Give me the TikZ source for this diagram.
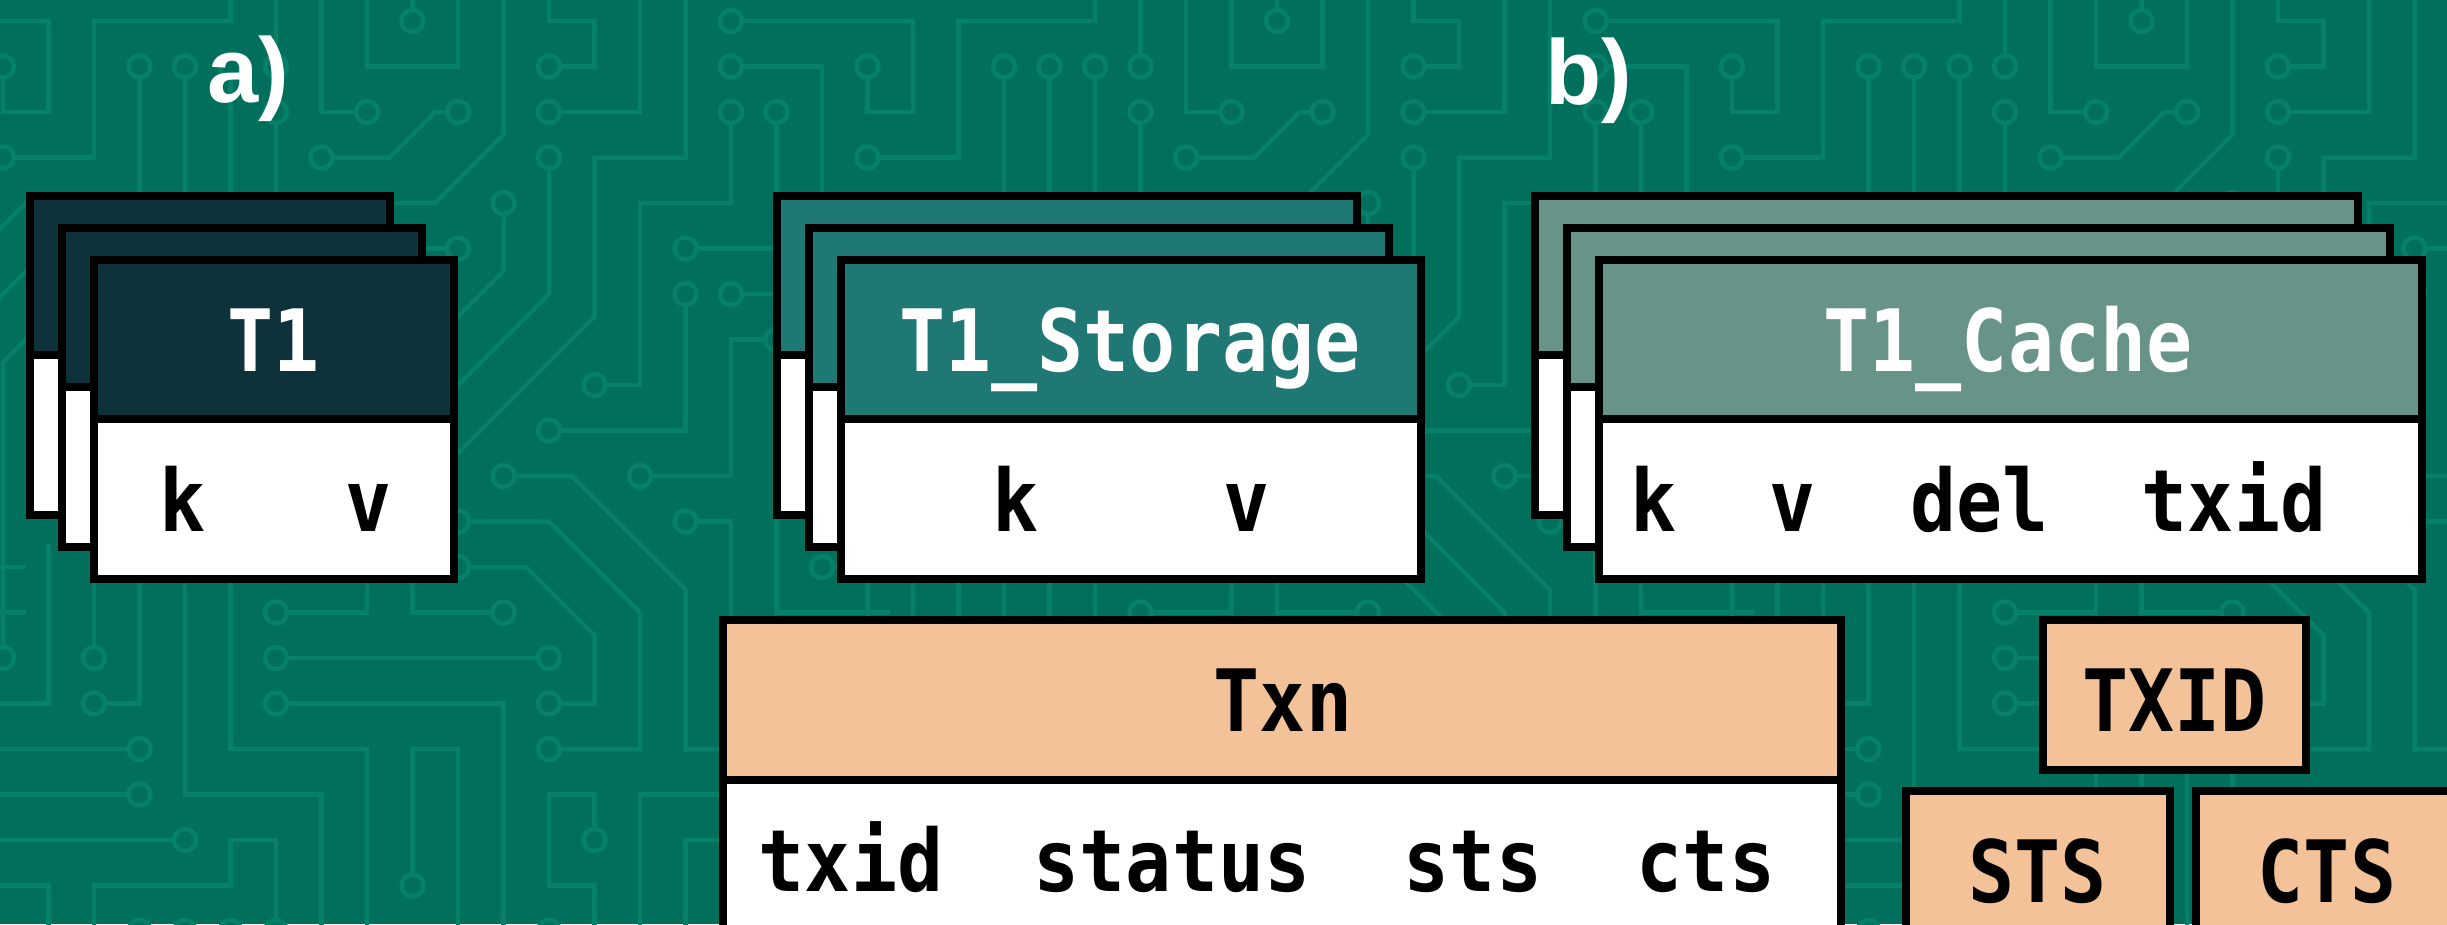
\documentclass[tikz,border=0pt]{standalone}
\usepackage{fontspec}
\newfontfamily\monof{DejaVu Sans Mono}[FakeStretch=0.89]
\newfontfamily\labf{Liberation Sans}
\definecolor{bg}{RGB}{0,111,91}
\definecolor{trace}{RGB}{6,128,105}
\definecolor{hdrA}{RGB}{14,50,58}
\definecolor{hdrB}{RGB}{31,120,115}
\definecolor{hdrC}{RGB}{104,147,137}
\definecolor{peach}{RGB}{243,194,152}
\tikzset{
  cardline/.style={draw=black, line width=8pt},
  trc/.style={draw=trace, line width=4.5pt},
  hdrtxt/.style={font=\monof\bfseries\fontsize{86}{100}\selectfont, text=white, inner sep=0pt, anchor=base},
  bodytxt/.style={font=\monof\bfseries\fontsize{86}{100}\selectfont, text=black, inner sep=0pt, anchor=base},
  labtxt/.style={font=\labf\bfseries\fontsize{92}{100}\selectfont, text=white, inner sep=0pt, anchor=base},
}
% #1 left, #2 top, #3 right, #4 bottom (outer edges), #5 header colour, #6 header height
\newcommand\dbcard[6]{%
  \fill[#5] (#1+4,#2+4) rectangle (#3-4,#2+#6);
  \fill[white] (#1+4,#2+#6) rectangle (#3-4,#4-4);
  \draw[cardline] (#1+4,#2+4) rectangle (#3-4,#4-4);
  \draw[cardline] (#1+4,#2+#6) -- (#3-4,#2+#6);
}
\newcommand\plainbox[5]{%
  \fill[#5] (#1+4,#2+4) rectangle (#3-4,#4-4);
  \draw[cardline] (#1+4,#2+4) rectangle (#3-4,#4-4);
}
\begin{document}
\begin{tikzpicture}[x=1pt, y=-1pt]
\useasboundingbox (0,0) rectangle (2447,924);
\clip (0,0) rectangle (2447,924);
\fill[bg] (0,0) rectangle (2447,924);

% circuit background pattern (tile of 19 x 45.5)
\foreach \k in {-1,0,1,2}{
\begin{scope}[xshift={\k*864.5pt+3pt}, yshift=-21pt, x=45.5pt, y=-45.5pt]
\draw[trc] (-0.5,0) -- (1,0) -- (1,2) -- (0,2) -- (0,1);
\draw[trc] (0,3) -- (2,3) -- (2,0) -- (5,0) -- (5,-1);
\draw[trc] (3,1) -- (3,5) (4,1) -- (4,5) (5,1) -- (5,5);
\draw[trc] (6,-1) -- (6,1) (6,2) -- (6,5);
\draw[trc] (7,3) -- (8.5,3) -- (9.5,2) -- (10,2);
\draw[trc] (8,2) -- (7,2) -- (7,-1);
\draw[trc] (8,-1) -- (8,1) -- (10,1) -- (10,-1) (9,0) -- (9,-1);
\draw[trc] (11,-1) -- (11,2.5) -- (9.5,4) -- (8,4);
\draw[trc] (12,-1) -- (12,0) -- (13,0) -- (13,1) -- (12,1);
\draw[trc] (12,2) -- (14,2) -- (14,-1);
\draw[trc] (12,3) -- (12,6) -- (9,9);
\draw[trc] (15,-1) -- (15,3) -- (13,3) -- (13,6.5) -- (9,10.5);
\draw[trc] (16,0) -- (19.5,0);
\draw[trc] (16,1) -- (18,1) -- (18,5);
\draw[trc] (16,2) -- (16,4) -- (14,4) -- (14,8) -- (13,8);
\draw[trc] (17,2) -- (17,5);
\draw[trc] (11,4) -- (11,5.5) -- (9,7.5);
\draw[trc] (10,5) -- (9,5);
\draw[trc] (15,5) -- (17.5,5);
\draw[trc] (15,6) -- (15,9) -- (12,9);
\draw[trc] (16,6) -- (17.5,6);
\draw[trc] (14,10) -- (16,10) -- (16,7) -- (17,7);
\draw[trc] (11,10) -- (12.5,10) -- (15,12.5) -- (15,16) -- (16.5,16);
\draw[trc] (15,11) -- (16,11) -- (16,14);
\draw[trc] (10,11) -- (12,11) -- (14,13) -- (14,16) -- (12,16);
\draw[trc] (10,12) -- (11.5,12) -- (13,13.5) -- (13,15) -- (12,15);
\draw[trc] (9,12) -- (9,13) -- (11,13);
\draw[trc] (6,14) -- (12,14);
\draw[trc] (6,15) -- (11,15) -- (11,21);
\draw[trc] (6,13) -- (8,13) -- (8,12);
\draw[trc] (17,10.5) -- (17,13) -- (19.5,13) (18,12) -- (19.5,12);
\draw[trc] (14,21) -- (14,17) -- (16.5,17) (15,21) -- (15,18) -- (16.5,18);
\draw[trc] (13,18) -- (13,17) -- (12,17) -- (12,19) -- (13,19) -- (13,21);
\draw[trc] (9,19) -- (9,16) -- (10,16) -- (10,21);
\draw[trc] (4,12) -- (4,17) -- (7,17) -- (7,21);
\draw[trc] (5,12) -- (5,16) -- (8,16) -- (8,21);
\draw[trc] (0.6,6.9) -- (0,7.5) -- (0,14);
\draw[trc] (-1,5.5) -- (0.6,3.9) (-1,7) -- (0.6,5.4);
\draw[trc] (1,11.5) -- (1,15) -- (-1,15);
\draw[trc] (2,12) -- (2,14);
\draw[trc] (2,15) -- (3,15) -- (3,12);
\draw[trc] (3,16) -- (-1,16) (3,17) -- (-1,17) (4,18) -- (-1,18);
\draw[trc] (-1,19) -- (1,19) -- (1,21);
\draw[trc] (2,21) -- (2,19) -- (5,19) -- (5,18) -- (6,18) -- (6,20);
\foreach \p in {(0,1),(0,3),(3,1),(4,1),(5,1),(6,1),(6,2),(7,3),(10,2),(8,2),(9,0),
  (12,1),(12,2),(12,3),(16,0),(16,1),(16,2),(13,8),(17,2),(11,4),(10,5),(15,5),(15,6),
  (12,9),(16,6),(14,10),(17,7),(11,10),(15,11),(10,11),(12,16),(10,12),(12,15),(11,13),
  (6,14),(12,14),(6,15),(6,13),(18,12),(13,18),(9,19),(0,14),(2,14),(2,15),(3,16),
  (3,17),(4,18),(3,20),(4,20),(5,20),(6,20),(12,20)}
  \draw[trc, fill=bg] \p circle[radius=11pt];
\end{scope}
}

% labels
\node[labtxt] (la) at (248,102) {a)};
\node[labtxt] (lb) at (1589,104) {b)};

% a) T1 stack
\dbcard{26}{192}{394}{519}{hdrA}{163}
\dbcard{58}{224}{426}{551}{hdrA}{163}
\dbcard{90}{256}{458}{583}{hdrA}{163}
\node[hdrtxt] (t1h) at (274,371) {T1};
\node[bodytxt] (t1k) at (183,531) {k};
\node[bodytxt] (t1v) at (369,531) {v};

% b) T1_Storage stack
\dbcard{773}{192}{1361}{519}{hdrB}{163}
\dbcard{805}{224}{1393}{551}{hdrB}{163}
\dbcard{837}{256}{1425}{583}{hdrB}{163}
\node[hdrtxt] (sth) at (1130,371) {T1\_Storage};
\node[bodytxt] (stk) at (1016,531) {k};
\node[bodytxt] (stv) at (1247,531) {v};

% T1_Cache stack
\dbcard{1531}{192}{2362}{519}{hdrC}{163}
\dbcard{1563}{224}{2394}{551}{hdrC}{163}
\dbcard{1595}{256}{2426}{583}{hdrC}{163}
\node[hdrtxt] (cah) at (2008,371) {T1\_Cache};
\node[bodytxt] (cak) at (1654,531) {k};
\node[bodytxt] (cav) at (1793,531) {v};
\node[bodytxt] (cad) at (1979.5,531) {del};
\node[bodytxt] (cat) at (2234,531) {txid};

% Txn
\dbcard{719}{616}{1845}{1000}{peach}{164}
\node[bodytxt] (txh) at (1283,731) {Txn};
\node[bodytxt] (txa) at (851,891) {txid};
\node[bodytxt] (txb) at (1172,891) {status};
\node[bodytxt] (txc) at (1473,891) {sts};
\node[bodytxt] (txd) at (1706,891) {cts};

% TXID, STS, CTS
\plainbox{2039}{616}{2310}{774}{peach}
\node[bodytxt] (txid) at (2174.5,731) {TXID};
\plainbox{1902}{787}{2174}{1000}{peach}
\node[bodytxt] (sts) at (2037.5,902) {STS};
\plainbox{2192}{787}{2500}{1000}{peach}
\node[bodytxt] (cts) at (2327,902) {CTS};
\end{tikzpicture}
\end{document}
